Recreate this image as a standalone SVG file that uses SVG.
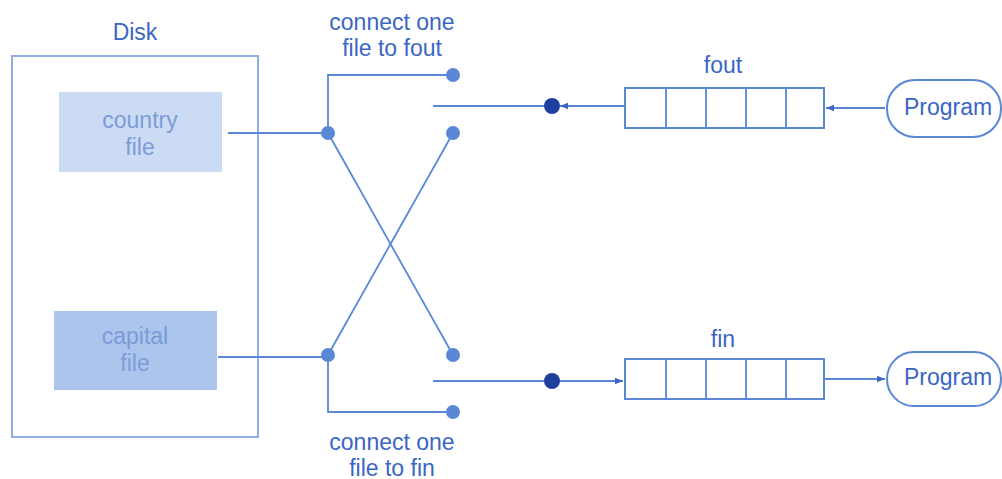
<svg xmlns="http://www.w3.org/2000/svg" width="1002" height="479" viewBox="0 0 1002 479">
<defs>
<style>
.t{font-family:"Liberation Sans",Arial,sans-serif;font-size:23px;fill:#3a66c4;text-anchor:middle}
.tf{font-family:"Liberation Sans",Arial,sans-serif;font-size:23px;fill:#7d9bd8;text-anchor:middle}
.ln{stroke:#5b88d6;stroke-width:1.8;fill:none}
.sw{fill:#5b88d6}
.dk{fill:#1e3f9e}
.q{fill:#fff;stroke:#5b88d6;stroke-width:2}
</style>
<marker id="ah" viewBox="0 0 10 10" refX="10" refY="5" markerWidth="10" markerHeight="8" markerUnits="userSpaceOnUse" orient="auto">
<path d="M0,1 L10,5 L0,9 Z" fill="#3a66c4"/>
</marker>
</defs>
<rect width="1002" height="479" fill="#fff"/>

<g id="disk">
<text class="t" x="135" y="40">Disk</text>
<rect x="12" y="56" width="246" height="381" fill="none" stroke="#8cade6" stroke-width="2"/>
</g>
<g id="country-file">
<rect x="59" y="92" width="163" height="80" fill="#cbdbf3"/>
<text class="tf" x="140" y="128">country</text>
<text class="tf" x="140" y="155">file</text>
</g>
<g id="capital-file">
<rect x="54" y="311" width="163" height="79" fill="#abc5ec"/>
<text class="tf" x="135" y="344">capital</text>
<text class="tf" x="135" y="371">file</text>
</g>

<g id="switch-labels">
<text class="t" x="392" y="30">connect one</text>
<text class="t" x="392" y="56">file to fout</text>
<text class="t" x="392" y="450">connect one</text>
<text class="t" x="392" y="476">file to fin</text>
</g>

<g id="connectors">
<path class="ln" d="M228,133 H328"/>
<path class="ln" d="M218,357 H328"/>
<path class="ln" d="M328,133 V75 H453"/>
<path class="ln" d="M328,355 V412 H453"/>
<path class="ln" d="M328,133 L453,355"/>
<path class="ln" d="M328,355 L453,133"/>
<path class="ln" d="M433,106 H552"/>
<path class="ln" d="M625,106 H560" marker-end="url(#ah)"/>
<path class="ln" d="M885,108 H826" marker-end="url(#ah)"/>
<path class="ln" d="M433,381 H552"/>
<path class="ln" d="M552,381 H623" marker-end="url(#ah)"/>
<path class="ln" d="M824,379 H885" marker-end="url(#ah)"/>
</g>

<g id="switch-dots">
<circle class="sw" cx="328" cy="133" r="7"/>
<circle class="sw" cx="328" cy="355" r="7"/>
<circle class="sw" cx="453" cy="75" r="7"/>
<circle class="sw" cx="453" cy="133" r="7"/>
<circle class="sw" cx="453" cy="355" r="7"/>
<circle class="sw" cx="453" cy="412" r="7"/>
<circle class="dk" cx="552" cy="106" r="8"/>
<circle class="dk" cx="552" cy="381" r="8"/>
</g>

<g id="fout">
<text class="t" x="723" y="73">fout</text>
<rect class="q" x="625" y="88" width="199" height="40"/>
<path class="ln" d="M666,88 V128 M706,88 V128 M746,88 V128 M786,88 V128"/>
</g>
<g id="fin">
<text class="t" x="723" y="347">fin</text>
<rect class="q" x="625" y="359" width="199" height="40"/>
<path class="ln" d="M666,359 V399 M706,359 V399 M746,359 V399 M786,359 V399"/>
</g>

<g id="program-top">
<rect x="887" y="80" width="114" height="57" rx="28" fill="#fff" stroke="#5b88d6" stroke-width="2"/>
<text class="t" x="948" y="115">Program</text>
</g>
<g id="program-bottom">
<rect x="887" y="352" width="114" height="54" rx="27" fill="#fff" stroke="#5b88d6" stroke-width="2"/>
<text class="t" x="948" y="385">Program</text>
</g>
</svg>
